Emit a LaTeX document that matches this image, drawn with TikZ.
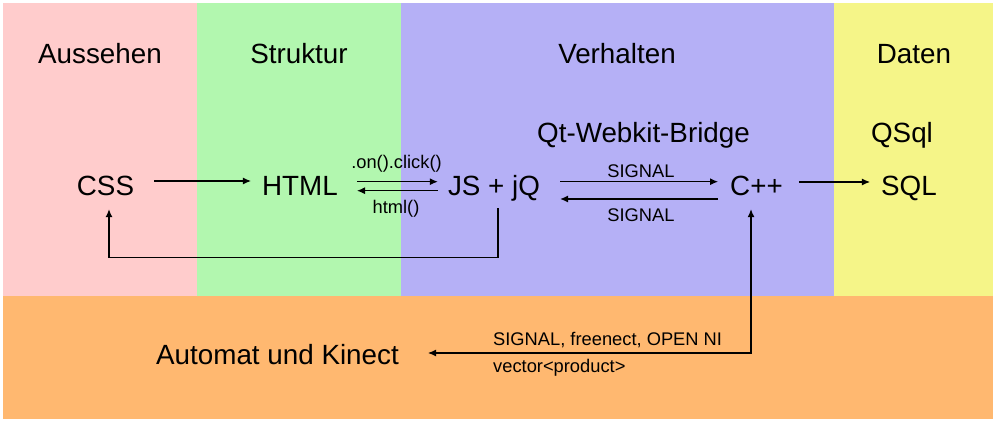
\documentclass[tikz,border=0pt]{standalone}
\usepackage{fontspec}
\setmainfont{Liberation Sans}
\usetikzlibrary{arrows.meta}
\definecolor{cpink}{RGB}{255,204,204}
\definecolor{cgreen}{RGB}{178,247,175}
\definecolor{cblue}{RGB}{181,176,246}
\definecolor{cyellow}{RGB}{245,245,136}
\definecolor{corange}{RGB}{255,184,112}
\begin{document}
\begin{tikzpicture}[x=1pt,y=-1pt,
  big/.style={font=\fontsize{27.8}{33}\selectfont, inner sep=0pt, text height=20pt, text depth=6pt, anchor=base},
  small/.style={font=\fontsize{18.3}{22}\selectfont, inner sep=0pt, anchor=base},
  arr/.style={-{Latex[length=8pt,width=7pt]}, line width=1.1pt},
  arrb/.style={{Latex[length=8pt,width=7pt]}-{Latex[length=8pt,width=7pt]}, line width=1.1pt}]
\fill[white] (0,0) rectangle (997,422);
\useasboundingbox (0,0) rectangle (997,422);
\fill[cpink] (3,3) rectangle (197,296);
\fill[cgreen] (197,3) rectangle (401,296);
\fill[cblue] (401,3) rectangle (834,296);
\fill[cyellow] (834,3) rectangle (993,296);
\fill[corange] (3,296) rectangle (993,419);

\node[big] (taus) at (100,64) {Aussehen};
\node[big] (tstr) at (299,64) {Struktur};
\node[big] (tver) at (617,64) {Verhalten};
\node[big] (tdat) at (914,64) {Daten};
\node[big] (tqt) at (643.5,143) {Qt-Webkit-Bridge};
\node[big] (tqsql) at (902,143) {QSql};

\node[big] (css) at (105.5,196) {CSS};
\node[big] (html) at (300,196) {HTML};
\node[big] (js) at (494,196) {JS + jQ};
\node[big] (cpp) at (756.5,196) {C++};
\node[big] (sql) at (909,196) {SQL};
\node[big] (kin) at (277.5,364) {Automat und Kinect};

\node[small] (lclick) at (396.5,169) {.on().click()};
\node[small] (lhtml) at (396,214) {html()};
\node[small] (lsig1) at (641,178) {SIGNAL};
\node[small] (lsig2) at (641,222) {SIGNAL};
\node[small, anchor=base west] (lfree) at (493,346) {SIGNAL, freenect, OPEN NI};
\node[small, anchor=base west] (lvec) at (493,372) {vector<product>};

\draw[arr] ([xshift=20pt,yshift=8pt]css.east) -- ([xshift=-11pt,yshift=8pt]html.west);
\draw[arr] ([xshift=19pt,yshift=7.3pt]html.east) -- ([xshift=-10pt,yshift=7.3pt]js.west);
\draw[arr] ([xshift=-10pt,yshift=-1.7pt]js.west) -- ([xshift=19pt,yshift=-1.7pt]html.east);
\draw[arr] ([xshift=20pt,yshift=7.3pt]js.east) -- ([xshift=-12pt,yshift=7.3pt]cpp.west);
\draw[arr] ([xshift=-12pt,yshift=-10pt]cpp.west) -- ([xshift=20pt,yshift=-10pt]js.east);
\draw[arr] ([xshift=16pt,yshift=7pt]cpp.east) -- ([xshift=-11pt,yshift=7pt]sql.west);
\draw[arr] ([xshift=4pt,yshift=-6pt]js.south) -- ++(0,49) -| ([xshift=3.5pt,yshift=-7pt]css.south);
\draw[arrb] ([xshift=29pt,yshift=4pt]kin.east) -| ([xshift=-5.5pt,yshift=-7pt]cpp.south);
\end{tikzpicture}
\end{document}
